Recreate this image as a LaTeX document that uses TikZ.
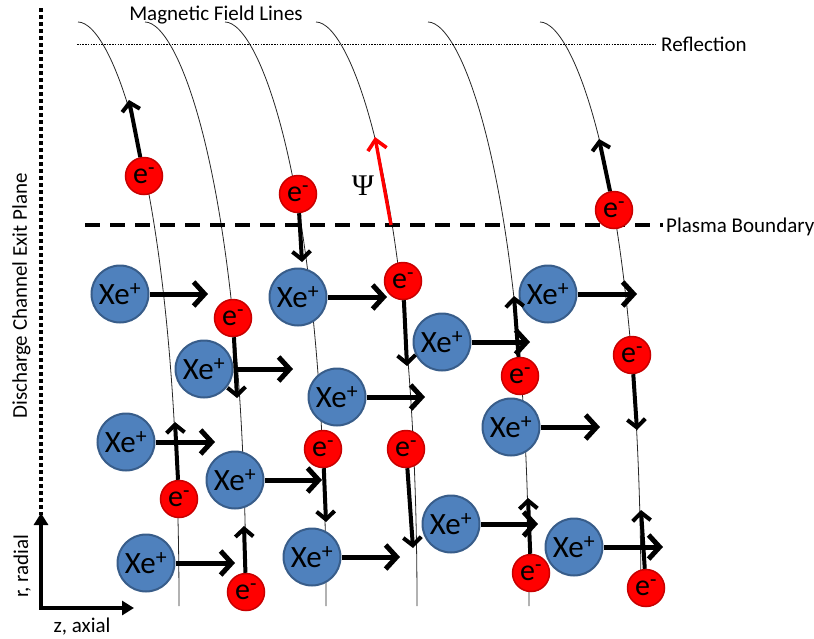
\documentclass[tikz,border=0pt]{standalone}
\usepackage{fontspec}
\setmainfont{Carlito}
\newfontfamily\psifont{Liberation Serif}
\usetikzlibrary{arrows.meta}
\definecolor{ionblue}{HTML}{4F81BD}
\definecolor{ionedge}{HTML}{385D8A}
\definecolor{eedge}{HTML}{C80000}
\begin{document}
\begin{tikzpicture}[x=1pt,y=-1pt,
  fieldline/.style={line width=0.8pt, black!85},
  ion/.style={circle, fill=ionblue, draw=ionedge, line width=2pt, minimum size=57pt, inner sep=0pt, font=\fontsize{31}{31}\selectfont},
  elec/.style={circle, fill=red, draw=eedge, line width=1.5pt, minimum size=37pt, inner sep=0pt, font=\fontsize{30}{30}\selectfont},
  ionarrow/.style={line width=5pt, -{Straight Barb[length=11pt,width=24pt,line width=5pt]}},
  elecarrow/.style={line width=4pt, -{Straight Barb[length=8pt,width=18pt,line width=4pt]}},
  redarrow/.style={line width=3.4pt, red, -{Straight Barb[length=10pt,width=19pt,line width=3.6pt]}},
  lbl/.style={inner sep=0pt, font=\fontsize{21}{24}\selectfont},
  axisline/.style={line width=4.5pt, {Triangle[length=12pt,width=14pt]}-{Triangle[length=12pt,width=14pt]}}
]
\useasboundingbox (0,0) rectangle (814,638);

% field lines
\foreach \x in {78,145,225,316,428,540}
  \draw[fieldline] (\x,22) .. controls ({\x+35},22) and ({\x+101},190) .. ({\x+101},606);

% reflection and plasma boundary
\coordinate (refl0) at (77,44);
\coordinate (refl1) at (655,44);
\draw[line width=0.7pt, dash pattern=on 1.5pt off 1.2pt] (refl0) -- (refl1);
\node[lbl, anchor=base west] (refltxt) at (661,51) {Reflection};

\coordinate (pb0) at (85,225);
\coordinate (pb1) at (663,225);
\draw[line width=3.8pt, dash pattern=on 15pt off 10pt] (pb0) -- (pb1);
\node[lbl, anchor=base west] (pbtxt) at (666,232) {Plasma Boundary};

\node[lbl, anchor=base] (mfl) at (216,20) {Magnetic Field Lines};

% exit plane
\coordinate (ep0) at (41,8);
\coordinate (ep1) at (41,515);
\draw[line width=4pt, dash pattern=on 4pt off 3pt] (ep0) -- (ep1);
\node[lbl, anchor=base, rotate=90] (eptxt) at (27,296) {Discharge Channel Exit Plane};

% axes
\coordinate (ytip) at (41,513);
\coordinate (xtip) at (134,608);
\draw[axisline] (ytip) |- (xtip);
\node[lbl, anchor=base, rotate=90] (rtxt) at (28,566) {r, radial};
\node[lbl, anchor=base] (ztxt) at (82,632) {z, axial};

% ions
\node[ion] (x1) at (120,294) {Xe\textsuperscript{+}};
\node[ion] (x2) at (298,297) {Xe\textsuperscript{+}};
\node[ion] (x3) at (548,294) {Xe\textsuperscript{+}};
\node[ion] (x4) at (442,342) {Xe\textsuperscript{+}};
\node[ion] (x5) at (204,369) {Xe\textsuperscript{+}};
\node[ion] (x6) at (337,397) {Xe\textsuperscript{+}};
\node[ion] (x7) at (511,427) {Xe\textsuperscript{+}};
\node[ion] (x8) at (126,442) {Xe\textsuperscript{+}};
\node[ion] (x9) at (235,480) {Xe\textsuperscript{+}};
\node[ion] (x10) at (451,524) {Xe\textsuperscript{+}};
\node[ion] (x11) at (574,547) {Xe\textsuperscript{+}};
\node[ion] (x12) at (312,557) {Xe\textsuperscript{+}};
\node[ion] (x13) at (146,563) {Xe\textsuperscript{+}};

\coordinate (x1t) at (208,294);
\coordinate (x2t) at (387,297);
\coordinate (x3t) at (637,294);
\coordinate (x4t) at (530,342);
\coordinate (x5t) at (293,369);
\coordinate (x6t) at (425,397);
\coordinate (x7t) at (600,427);
\coordinate (x8t) at (215,442);
\coordinate (x9t) at (322,480);
\coordinate (x10t) at (538,524);
\coordinate (x11t) at (663,547);
\coordinate (x12t) at (400,557);
\coordinate (x13t) at (235,563);

% electrons
\node[elec] (e1) at (144,176) {e\textsuperscript{-}};
\node[elec] (e2) at (298,194) {e\textsuperscript{-}};
\node[elec] (e3) at (403,281) {e\textsuperscript{-}};
\node[elec] (e4) at (614,210) {e\textsuperscript{-}};
\node[elec] (e5) at (233,318) {e\textsuperscript{-}};
\node[elec] (e6) at (520,376) {e\textsuperscript{-}};
\node[elec] (e7) at (632,355) {e\textsuperscript{-}};
\node[elec] (e8) at (406,449) {e\textsuperscript{-}};
\node[elec] (e9) at (323,449) {e\textsuperscript{-}};
\node[elec] (e10) at (179,499) {e\textsuperscript{-}};
\node[elec] (e11) at (246,592) {e\textsuperscript{-}};
\node[elec] (e12) at (531,573) {e\textsuperscript{-}};
\node[elec] (e13) at (646,588) {e\textsuperscript{-}};

\coordinate (e1t) at (129,100);
\coordinate (e2t) at (302,262);
\coordinate (e3t) at (407,366);
\coordinate (e4t) at (599,139);
\coordinate (e5t) at (237,398);
\coordinate (e6t) at (514,296);
\coordinate (e7t) at (637,430);
\coordinate (e8t) at (413,548);
\coordinate (e9t) at (326,522);
\coordinate (e10t) at (175,422);
\coordinate (e11t) at (244,526);
\coordinate (e12t) at (528,498);
\coordinate (e13t) at (641,510);

% ion arrows
\foreach \n in {1,...,13}
  \draw[ionarrow] (x\n) -- (x\n t);

% electron arrows
\foreach \n in {1,...,13}
  \draw[elecarrow] (e\n) -- (e\n t);

% red arrow and psi
\coordinate (rb) at (391,225);
\coordinate (rt) at (375,137);
\draw[redarrow] (rb) -- (rt);
\node[font=\psifont\fontsize{30}{30}\selectfont, inner sep=0pt] (psi) at (363,186) {Ψ};
\end{tikzpicture}
\end{document}
